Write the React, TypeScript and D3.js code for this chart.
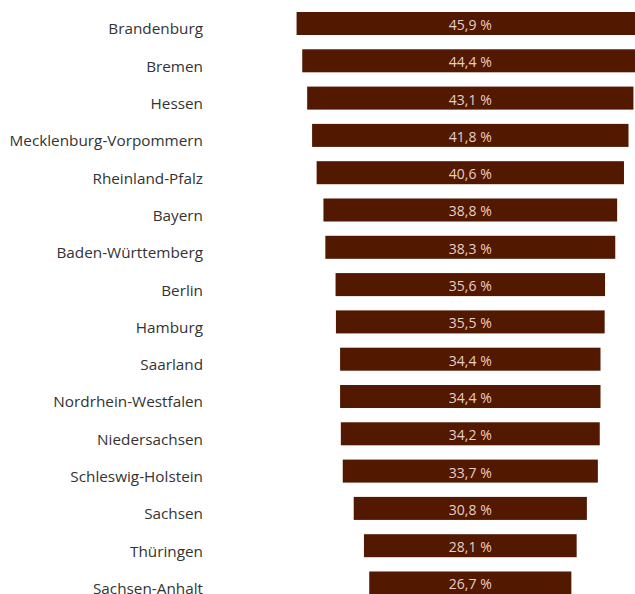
import React from "react";
import * as d3 from "d3";

const categories = [
  "Brandenburg",
  "Bremen",
  "Hessen",
  "Mecklenburg-Vorpommern",
  "Rheinland-Pfalz",
  "Bayern",
  "Baden-Württemberg",
  "Berlin",
  "Hamburg",
  "Saarland",
  "Nordrhein-Westfalen",
  "Niedersachsen",
  "Schleswig-Holstein",
  "Sachsen",
  "Thüringen",
  "Sachsen-Anhalt",
];
const values = [45.9, 44.4, 43.1, 41.8, 40.6, 38.8, 38.3, 35.6, 35.5, 34.4, 34.4, 34.2, 33.7, 30.8, 28.1, 26.7];

const W = 635;
const H = 594;
const CX = 470.3;
const FONT = "'Open Sans', 'Noto Sans', sans-serif";

export default function App() {
  const y = d3
    .scaleBand<string>()
    .domain(categories)
    .range([4.85, 601.65])
    .paddingInner(0.383)
    .paddingOuter(0.1915);
  const w = d3.scaleLinear().domain([0, 50]).range([0, 378.5]);
  const fmt = (v: number) => d3.format(".1f")(v).replace(".", ",") + " %";

  return (
    <svg
      width={W}
      height={H}
      style={{ position: "absolute", left: 0, top: 0, display: "block" }}
    >
      {categories.map((c, i) => {
        const top = y(c)!;
        const bw = y.bandwidth();
        const width = w(values[i]);
        return (
          <g key={c}>
            <text
              x={203}
              y={top + bw - 0.6}
              textAnchor="end"
              fontFamily={FONT}
              fontSize={15.3}
              fill="#333333"
            >
              {c}
            </text>
            <rect x={CX - width / 2} y={top} width={width} height={bw} fill="#521800" />
            <text
              x={CX}
              y={top + 18}
              textAnchor="middle"
              fontFamily={FONT}
              fontSize={14}
              fill="#e6cfc6"
            >
              {fmt(values[i])}
            </text>
          </g>
        );
      })}
    </svg>
  );
}
